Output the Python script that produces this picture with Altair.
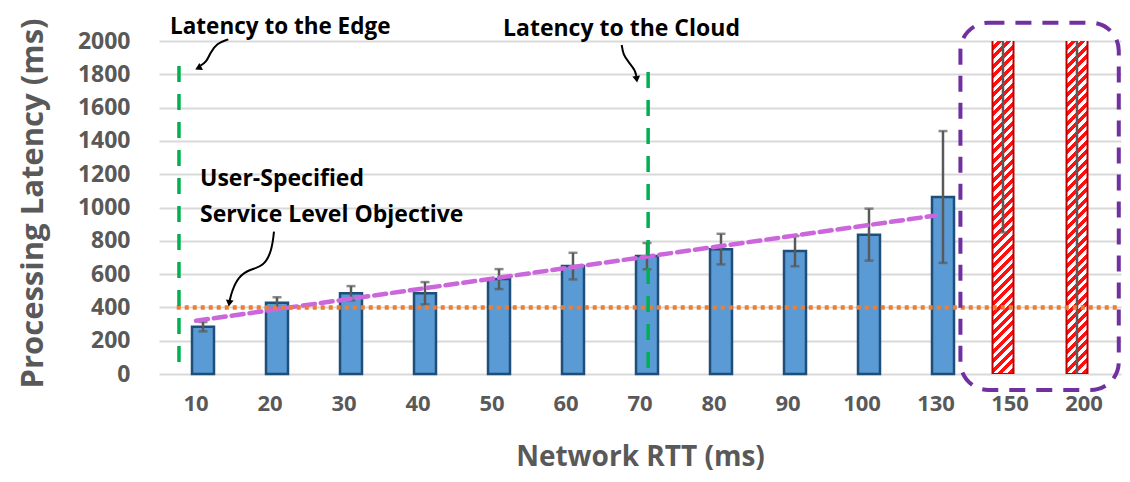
import altair as alt
import pandas as pd
import numpy as np

# ---------------- data ----------------
rtt = ["10", "20", "30", "40", "50", "60", "70", "80", "90", "100", "130", "150", "200"]
mean_ms = [284, 428, 485, 485, 570, 648, 708, 750, 738, 837, 1063, 2600, 3600]
err_ms = [28, 33, 43, 67, 60, 80, 79, 92, 91, 156, 396, 1750, 3700]
overflow = [False] * 11 + [True, True]
y_ticks = [0, 200, 400, 600, 800, 1000, 1200, 1400, 1600, 1800, 2000]
slo_ms = 400

YMAX = 2000
FONT = "Open Sans"
GRAY = "#595959"

df = pd.DataFrame({"rtt": rtt, "mean": mean_ms, "err": err_ms, "overflow": overflow})
df["lo"] = df["mean"] - df["err"]
df["hi"] = df["mean"] + df["err"]
df["lo_c"] = df["lo"].clip(lower=0, upper=YMAX)
df["hi_c"] = df["hi"].clip(lower=0, upper=YMAX)
df["bar_c"] = df["mean"].clip(upper=YMAX + 30)

blue = df[~df["overflow"]]
red = df[df["overflow"]]

# linear trendline (Excel style) over the in-range bars
idx = np.arange(len(blue))
slope, icpt = np.polyfit(idx, blue["mean"].to_numpy(), 1)
trend = pd.DataFrame({"rtt": blue["rtt"], "t": icpt + slope * idx})

W_PLOT, H_PLOT = 962, 333
x_scale = alt.Scale(domain=rtt, paddingInner=0, paddingOuter=0)
y_scale = alt.Scale(domain=[0, YMAX], nice=False)

# hatch fill via hard-stop linear gradient
BW, BH = 21, H_PLOT * (YMAX + 30) / YMAX
k = 1.06
denom = BH * k * (1 + (BW / BH) ** 2)
period = 9.5 / denom
stops = []
t0 = 0.0
while t0 < 1:
    half = min(t0 + period * 0.55, 1)
    end = min(t0 + period, 1)
    stops += [{"offset": t0, "color": "#FF1010"}, {"offset": half, "color": "#FF1010"},
              {"offset": half, "color": "#FFFFFF"}, {"offset": end, "color": "#FFFFFF"}]
    t0 += period
hatch = {"gradient": "linear", "x1": 0, "y1": 0, "x2": k * BW / BH, "y2": k, "stops": stops}

xaxis = alt.Axis(title="Network RTT (ms)", labelAngle=0, domain=False, ticks=False,
                 grid=False, labelPadding=19, labelFont=FONT, labelFontSize=22,
                 labelFontWeight="bold", labelColor=GRAY, titleFont=FONT,
                 titleFontSize=28, titleFontWeight="bold", titleColor=GRAY,
                 titleX=481, titleY=91, titleBaseline="alphabetic", titleAlign="center")
X = alt.X("rtt:N", scale=x_scale, sort=rtt, axis=xaxis)

yaxis = alt.Axis(values=y_ticks, format="d", title="Processing Latency (ms)", grid=True,
                 gridColor="#D9D9D9", gridWidth=2, domain=False, ticks=False, labelPadding=29,
                 labelFont=FONT, labelFontSize=23, labelFontWeight="bold", labelColor=GRAY,
                 titleFont=FONT, titleFontSize=31, titleFontWeight="bold", titleColor=GRAY,
                 titleAngle=-90, titleX=-110, titleY=162, titleAlign="center",
                 titleBaseline="bottom")


def Y(field):
    return alt.Y(field, scale=y_scale, axis=yaxis)


bars = alt.Chart(blue).mark_bar(width=22, xOffset=7, fill="#5B9BD5", stroke="#1F4E79",
                                strokeWidth=2.5).encode(x=X, y=Y("mean:Q"))
rbars = alt.Chart(red).mark_bar(width=BW, xOffset=-7, fill=hatch, stroke="#C00000",
                                strokeWidth=2, clip=True).encode(x=X, y=Y("bar_c:Q"))

eb_blue = alt.Chart(blue).mark_rule(xOffset=7, color=GRAY, strokeWidth=2.5).encode(
    x=X, y=Y("lo_c:Q"), y2="hi_c:Q")
eb_red = alt.Chart(red).mark_rule(xOffset=-7, color=GRAY, strokeWidth=2.5).encode(
    x=X, y=Y("lo_c:Q"), y2="hi_c:Q")
cap_lo_b = alt.Chart(blue).mark_tick(xOffset=7, color=GRAY, size=9, thickness=2.5).encode(
    x=X, y=Y("lo:Q"))
cap_hi_b = alt.Chart(blue).mark_tick(xOffset=7, color=GRAY, size=9, thickness=2.5).encode(
    x=X, y=Y("hi:Q"))
cap_lo_r = alt.Chart(red).transform_filter("datum.lo >= 0").mark_tick(
    xOffset=-7, color=GRAY, size=9, thickness=2.5).encode(x=X, y=Y("lo:Q"))

trend_line = alt.Chart(trend).mark_line(color="#CC66DD", strokeWidth=4.5, strokeDash=[12, 6],
                                        strokeCap="round").encode(x=X, y=Y("t:Q"))

main = alt.layer(bars, rbars, eb_blue, eb_red, cap_lo_b, cap_hi_b, cap_lo_r, trend_line)

# ---------------- annotations (slot units: one category = 1) ----------------
XU = alt.Scale(domain=[0, 13], nice=False, zero=False)


def XA(field):
    return alt.X(field, scale=XU, axis=None)


slo_df = pd.DataFrame({"x": [0.24], "x2": [12.97], "y": [slo_ms]})
slo = alt.Chart(slo_df).mark_rule(color="#ED7D31", strokeWidth=4.5, strokeDash=[4, 4]).encode(
    x=XA("x:Q"), x2="x2", y=Y("y:Q"))

vl_df = pd.DataFrame({"x": [0.27, 6.61], "y": [72, 36], "y2": [1850, 1814]})
vlines = alt.Chart(vl_df).mark_rule(color="#00B050", strokeWidth=3.5, strokeDash=[16, 12]).encode(
    x=XA("x:Q"), y=Y("y:Q"), y2="y2")

arrows = pd.DataFrame({
    "id": ["e"] * 5 + ["c"] * 5 + ["s"] * 7,
    "o": list(range(5)) + list(range(5)) + list(range(7)),
    "x": [0.936, 0.78, 0.689, 0.645, 0.56,
          6.253, 6.274, 6.342, 6.432, 6.45,
          1.554, 1.523, 1.409, 1.23, 1.072, 0.982, 0.955],
    "y": [2010, 1986, 1926, 1876, 1852,
          1976, 1916, 1876, 1826, 1790,
          855, 735, 645, 629, 585, 494, 440],
})
arrow_lines = alt.Chart(arrows).mark_line(color="black", strokeWidth=2, interpolate="basis").encode(
    x=XA("x:Q"), y=Y("y:Q"), detail="id:N", order="o:Q")

heads = pd.DataFrame({"x": [0.53, 6.455, 0.95], "y": [1838, 1770, 425], "a": [243, 172, 188]})
arrow_heads = alt.Chart(heads).mark_point(shape="triangle-up", filled=True, color="black",
                                          size=60, opacity=1).encode(
    x=XA("x:Q"), y=Y("y:Q"), angle=alt.Angle("a:Q", scale=None))

notes = pd.DataFrame({
    "x": [0.149, 4.649, 0.554, 0.554],
    "y": [2045, 2030, 1129, 915],
    "size": [22.5, 23, 23, 23],
    "label": ["Latency to the Edge", "Latency to the Cloud", "User-Specified",
              "Service Level Objective"],
})
note_text = alt.Chart(notes).mark_text(align="left", baseline="alphabetic", font=FONT,
                                       fontWeight="bold", color="black").encode(
    x=XA("x:Q"), y=Y("y:Q"), text="label:N", size=alt.Size("size:Q", scale=None))

box_df = pd.DataFrame({"x": [10.83], "x2": [12.97], "y": [-96], "y2": [2110]})
box = alt.Chart(box_df).mark_rect(filled=False, stroke="#7030A0", strokeWidth=4,
                                  strokeDash=[16, 11], cornerRadius=28).encode(
    x=XA("x:Q"), x2="x2", y=Y("y:Q"), y2="y2")

overlay = alt.layer(slo, vlines, arrow_lines, arrow_heads, note_text, box)

chart = alt.layer(main, overlay).resolve_scale(x="independent").properties(
    width=W_PLOT, height=H_PLOT,
    autosize=alt.AutoSizeParams(type="none"),
    padding={"left": 151, "top": 33, "right": 1, "bottom": 99},
).configure_view(stroke=None)

chart.save("out.html", embed_options={"renderer": "svg", "actions": False})
